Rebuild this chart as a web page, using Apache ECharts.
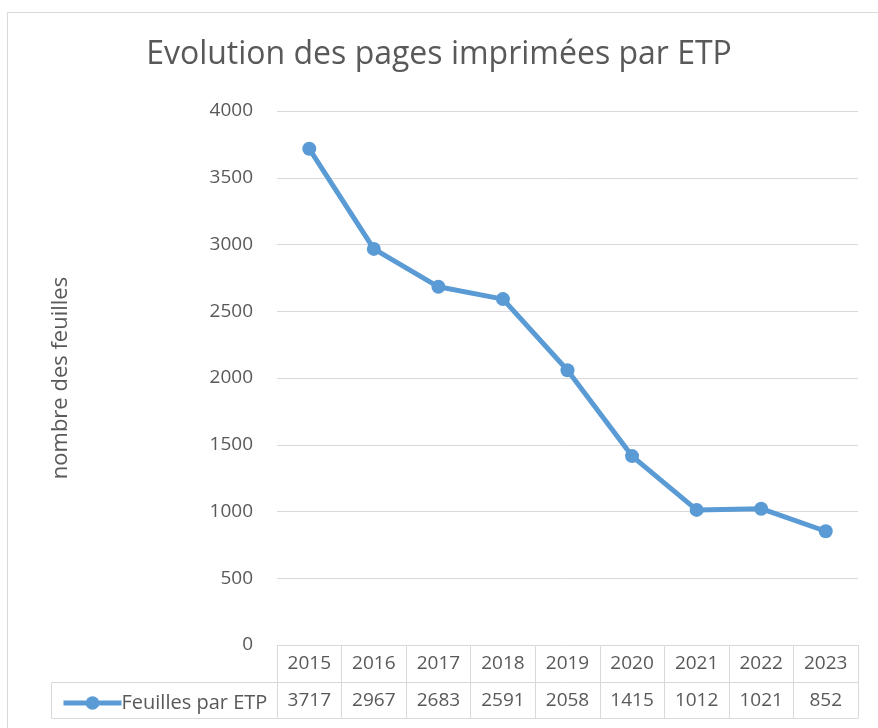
<!DOCTYPE html>
<html><head><meta charset="utf-8">
<script src="https://cdn.jsdelivr.net/npm/echarts@6/dist/echarts.min.js"></script>
<style>html,body{margin:0;padding:0;background:#fff}#c{width:878px;height:728px}</style>
</head><body><div id="c"></div>
<script>
const years = ['2015','2016','2017','2018','2019','2020','2021','2022','2023'];
const values = [3717, 2967, 2683, 2591, 2058, 1415, 1012, 1021, 852];
const seriesName = 'Feuilles par ETP';
const titleText = 'Evolution des pages imprimées par ETP';
const yName = 'nombre des feuilles';

const FONT = 'Open Sans';
const txt = '#595959';
const gridc = '#d9d9d9';
const blue = '#5b9bd5';
const chart = echarts.init(document.getElementById('c'));
chart.setOption({
  animation: false,
  textStyle: {fontFamily: FONT},
  title: {text: titleText, left: 'center', top: 34, textStyle: {fontFamily: FONT, fontSize: 32, fontWeight: 'normal', color: txt}},
  grid: {left: 277, right: 20, top: 111, bottom: 83},
  legend: {
    data: [seriesName], left: 56, top: 688, itemWidth: 58, itemHeight: 17, itemGap: 0,
    lineStyle: {width: 5, color: blue},
    textStyle: {fontFamily: FONT, fontSize: 20, color: txt, padding: [0,0,0,-5]}
  },
  xAxis: [{
    type: 'category', data: years, boundaryGap: true,
    axisLine: {show: true, lineStyle: {color: gridc}},
    axisTick: {show: true, length: 73, lineStyle: {color: gridc}},
    axisLabel: {fontFamily: FONT, fontSize: 19, color: txt, margin: 9}
  }, {
    type: 'category', data: years, boundaryGap: true, position: 'bottom', offset: 37,
    axisLine: {show: true, lineStyle: {color: gridc}},
    axisTick: {show: false},
    axisLabel: {fontFamily: FONT, fontSize: 19, color: txt, margin: 9, formatter: (v, i) => String(values[i])}
  }],
  yAxis: {
    type: 'value', min: 0, max: 4000, interval: 500,
    name: yName, nameLocation: 'middle', nameGap: 205, nameRotate: 90,
    nameTextStyle: {fontFamily: FONT, fontSize: 22, color: txt},
    axisLine: {show: false}, axisTick: {show: false},
    axisLabel: {fontFamily: FONT, fontSize: 19, color: txt, margin: 24, formatter: v => String(v)},
    splitLine: {lineStyle: {color: gridc, width: 1}}
  },
  series: [{
    name: seriesName, type: 'line', data: values, xAxisIndex: 0,
    symbol: 'circle', symbolSize: 14,
    lineStyle: {color: blue, width: 5}, itemStyle: {color: blue}
  }],
  graphic: [
    {type: 'rect', shape: {x: 7.5, y: 12.5, width: 900, height: 800}, style: {fill: 'none', stroke: gridc, lineWidth: 1}, silent: true},
    {type: 'line', shape: {x1: 51.5, y1: 682.5, x2: 277.5, y2: 682.5}, style: {stroke: gridc, lineWidth: 1}},
    {type: 'line', shape: {x1: 51.5, y1: 718.5, x2: 858.5, y2: 718.5}, style: {stroke: gridc, lineWidth: 1}},
    {type: 'line', shape: {x1: 51.5, y1: 682.5, x2: 51.5, y2: 718.5}, style: {stroke: gridc, lineWidth: 1}}
  ]
});
</script></body></html>
